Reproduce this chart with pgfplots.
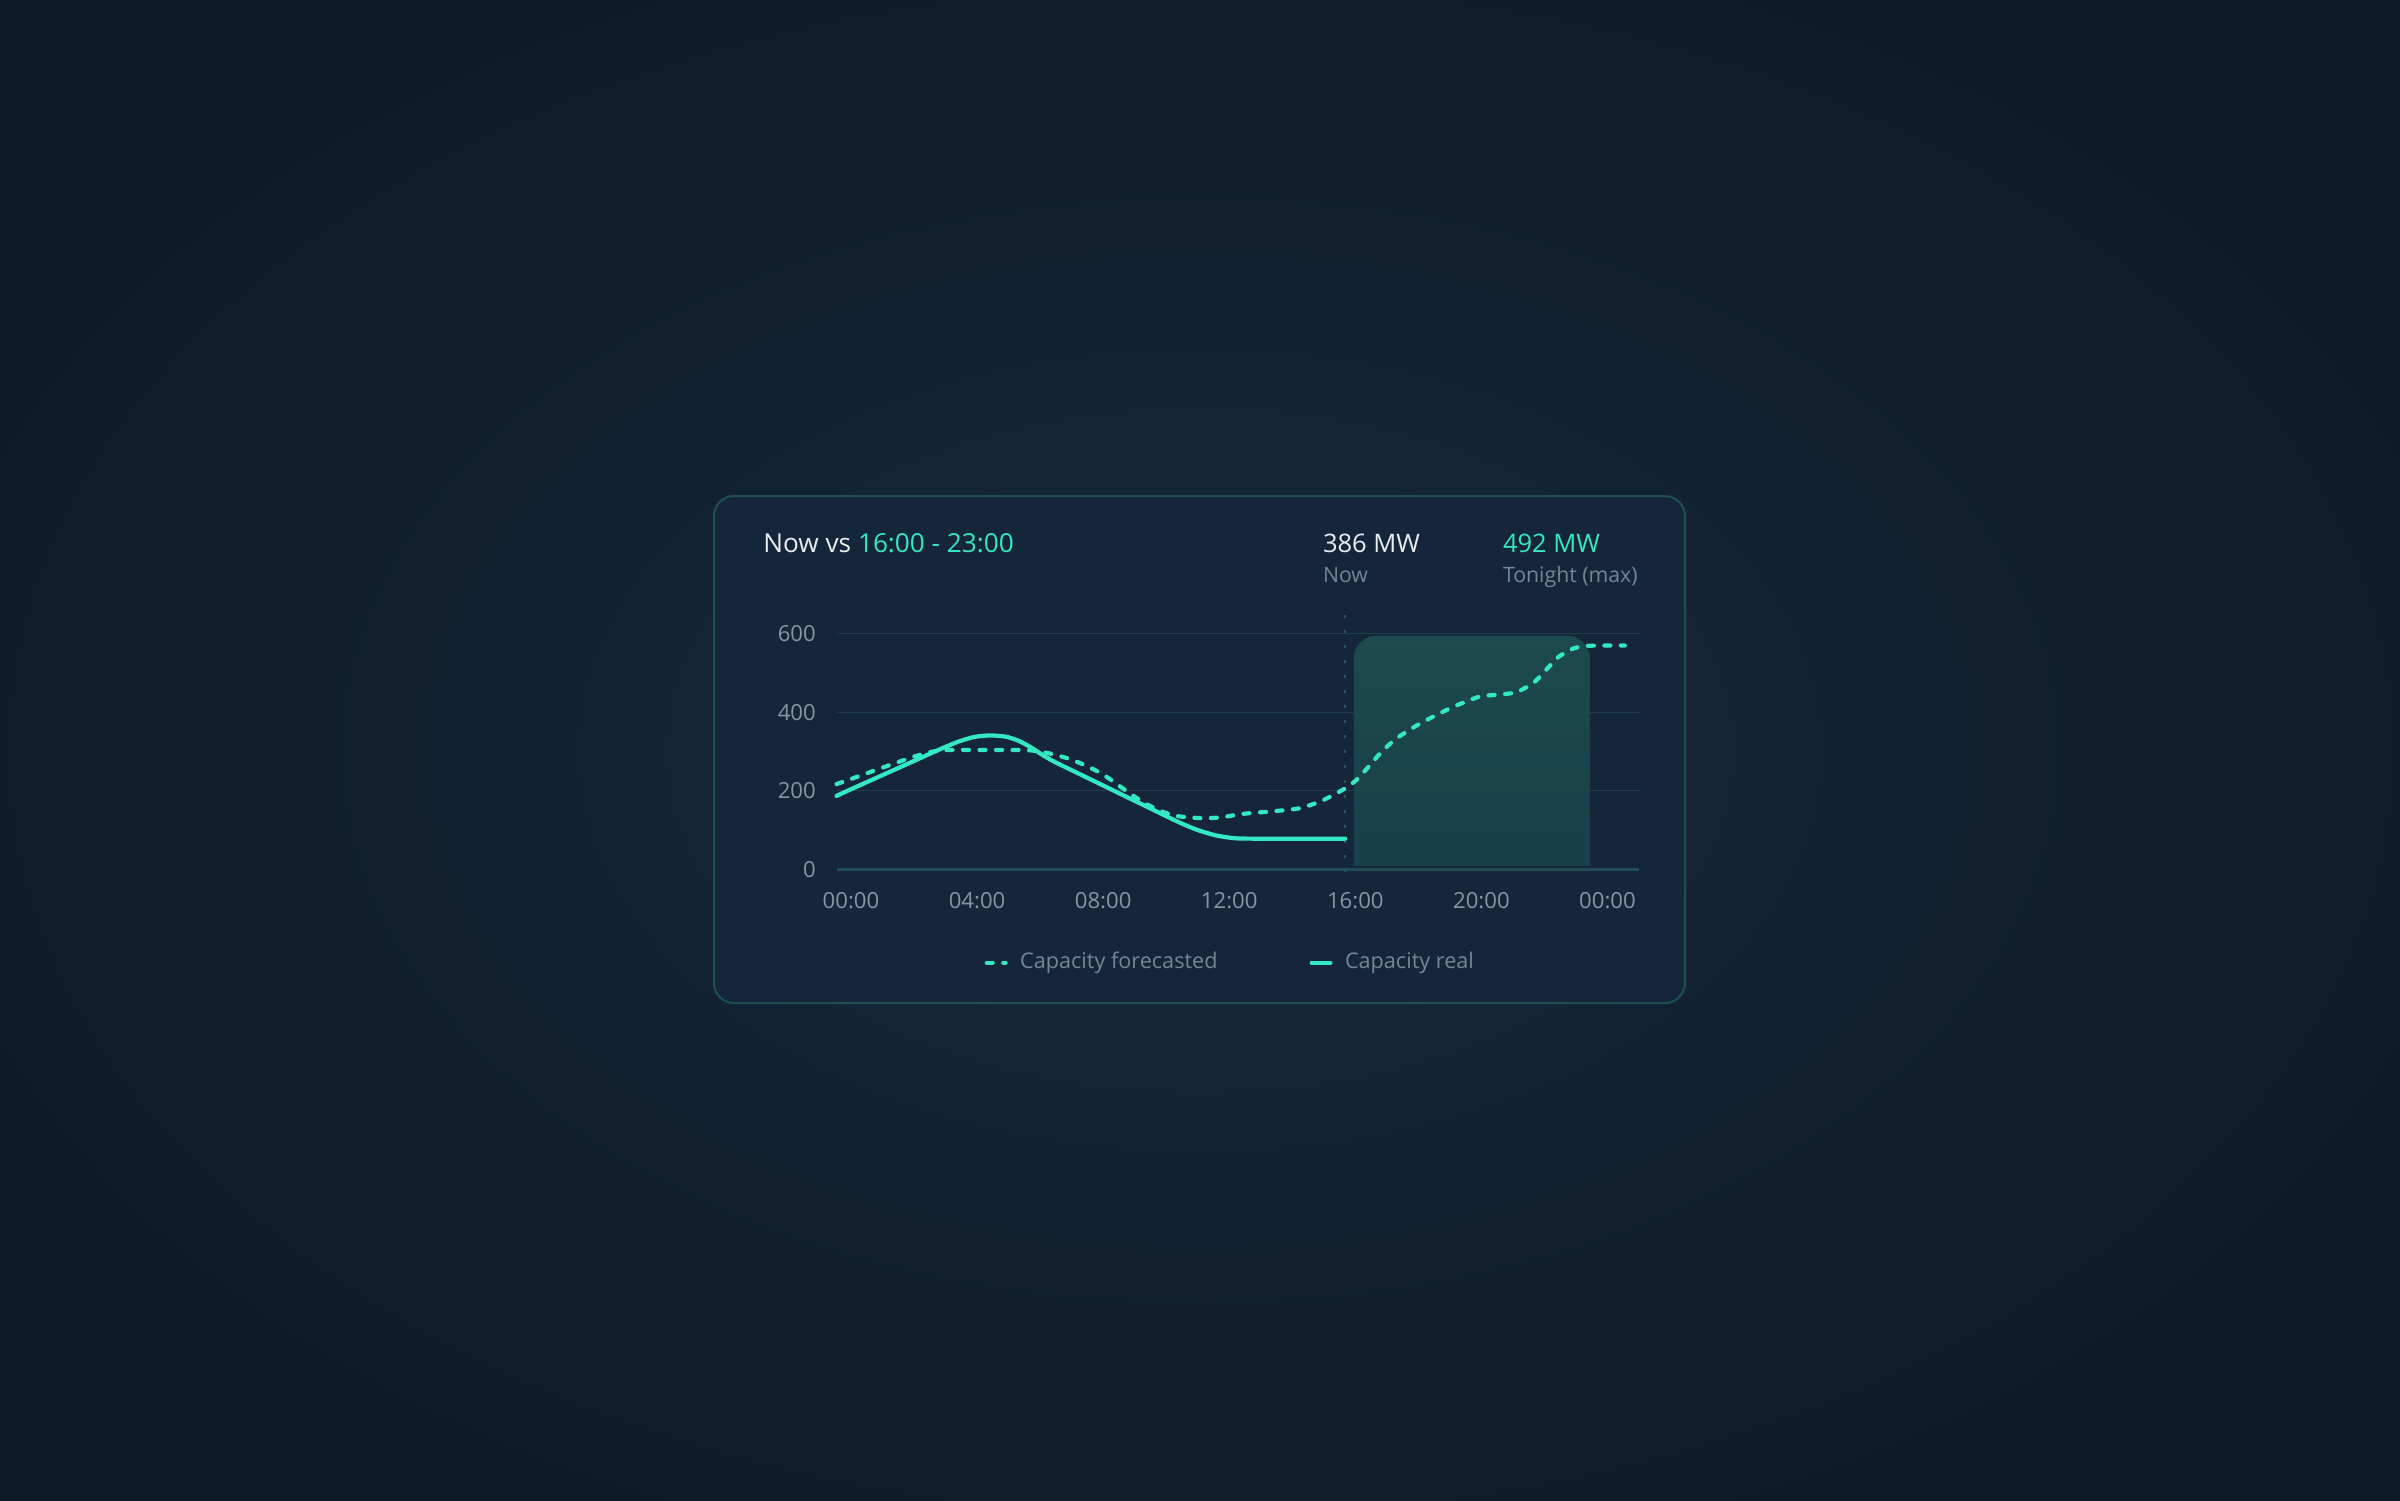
\documentclass[border=0pt]{standalone}
\usepackage{pgfplots}
\pgfplotsset{compat=1.18}
\usepackage{fontspec}
\setmainfont{Open Sans}
\definecolor{bgin}{HTML}{172A3C}
\definecolor{bgout}{HTML}{0E1927}
\definecolor{cardfill}{HTML}{15263A}
\definecolor{cardborder}{HTML}{1F5050}
\definecolor{accent}{HTML}{33E8C2}
\definecolor{whitetxt}{HTML}{E8EDF2}
\definecolor{labelgray}{HTML}{6F8A94}
\definecolor{tickgray}{HTML}{8597A2}
\definecolor{gridc}{HTML}{1F3E49}
\definecolor{axisc}{HTML}{1F4C55}
\definecolor{recttop}{HTML}{1C4A4E}
\definecolor{rectbot}{HTML}{193F48}
\definecolor{vlinec}{HTML}{27535C}

\pgfplotstableread{
h v
-0.46 187
0 204
1 240
2 276
2.8 305
3.4 325
3.9 337
4.4 341
4.9 338
5.3 328
5.7 311
6.1 290
6.5 272
7.5 233
8.5 194
9.5 155
10.4 120
11.0 100
11.6 86
12.2 79
13 78
14 78
15 78
15.68 78
}\realdata

\pgfplotstableread{
h v
-0.46 217
0 230
1 259
2 287
2.6 300
3.1 304
4 304
5 304
5.7 303
6.3 295
6.9 282
7.4 266
7.9 246
8.3 225
8.9 190
9.4 165
9.9 146
10.4 135
11.2 130
11.8 133
12.4 141
13.4 148
14.2 155
14.8 170
15.2 185
15.67 206
16.04 228
16.46 265
16.83 299
17.3 333
17.94 366
18.57 393
19.2 417
19.95 440
20.58 445
21.1 451
21.64 474
22.1 512
22.43 540
22.9 562
23.33 569
24 570
24.55 570
}\forecastdata

\begin{document}
\begin{tikzpicture}
\useasboundingbox (0,0) rectangle (240mm,-150mm);
% background
\begin{scope}
\clip (0,0) rectangle (240mm,-150mm);
\fill[bgout] (0,0) rectangle (240mm,-150mm);
\shade[inner color=bgin, outer color=bgout] (-20mm,15mm) rectangle (260mm,-165mm);
\end{scope}
% card
\draw[cardborder, line width=0.2mm, fill=cardfill, rounded corners=2mm] (71.4mm,-49.6mm) rectangle (168.5mm,-100.3mm);
% header texts
\node[anchor=base west, inner sep=0pt, text=whitetxt] at (76.27mm,-55.27mm) {\fontsize{7.45}{8}\selectfont Now vs \textcolor{accent}{16:00 - 23:00}};
\node[anchor=base west, inner sep=0pt, text=whitetxt] at (132.23mm,-55.27mm) {\fontsize{7.25}{8}\selectfont 386 MW};
\node[anchor=base west, inner sep=0pt, text=labelgray] at (132.23mm,-58.27mm) {\fontsize{6.05}{7}\selectfont Now};
\node[anchor=base west, inner sep=0pt, text=accent] at (150.23mm,-55.27mm) {\fontsize{7.25}{8}\selectfont 492 MW};
\node[anchor=base west, inner sep=0pt, text=labelgray] at (150.23mm,-58.27mm) {\fontsize{6.05}{7}\selectfont Tonight (max)};

\begin{axis}[
  at={(83.65mm,-86.93mm)}, anchor=south west,
  scale only axis, width=80.25mm, height=23.56mm,
  xmin=-0.46, xmax=25, ymin=0, ymax=600,
  clip=false,
  axis line style={draw=none},
  major tick length=0pt,
  ytick={0,200,400,600},
  xtick={0,4,8,12,16,20,24},
  xticklabels={00:00,04:00,08:00,12:00,16:00,20:00,00:00},
  /pgf/number format/assume math mode=true,
  tick label style={font=\fontsize{6.3}{7}\selectfont, text=tickgray, inner sep=0pt},
  yticklabel style={anchor=east, xshift=-2mm},
  xticklabel style={anchor=north, yshift=-2.2mm},
  ymajorgrids,
  grid style={gridc, line width=0.12mm},
  legend columns=2,
  legend style={at={(0.1838,-0.396)}, anchor=west, draw=none, fill=none,
    inner sep=0pt, font=\fontsize{6.15}{7}\selectfont, text=labelgray,
    nodes={inner sep=0pt}, column sep=1.25mm,
    /tikz/every even column/.append style={column sep=9.2mm}},
  legend image code/.code={\draw[#1, line width=0.4mm] (0mm,0mm) -- (1.9mm,0mm);},
]
% highlight band with rounded top corners
\begin{scope}
\clip[rounded corners=2.3mm] (axis cs:15.95,-60) rectangle (axis cs:23.44,595);
\clip (axis cs:15.95,9) rectangle (axis cs:23.44,595);
\shade[top color=recttop, bottom color=rectbot] (axis cs:15.95,9) rectangle (axis cs:23.44,595);
\end{scope}
% zero axis line
\draw[axisc, line width=0.3mm] (axis cs:-0.46,0) -- (axis cs:25,0);
% now marker
\draw[vlinec, line width=0.15mm, dash pattern=on 0.3mm off 1.2mm] (axis cs:15.67,647) -- (axis cs:15.67,-6);

\addplot[accent, line width=0.42mm, line cap=round, dash pattern=on 0.6mm off 1.05mm, smooth, tension=0.4] table[x=h, y=v] {\forecastdata};
\addlegendentry{Capacity forecasted}
\addplot[accent, line width=0.42mm, line cap=round, smooth, tension=0.4] table[x=h, y=v] {\realdata};
\addlegendentry{Capacity real}
\end{axis}
\end{tikzpicture}
\end{document}
